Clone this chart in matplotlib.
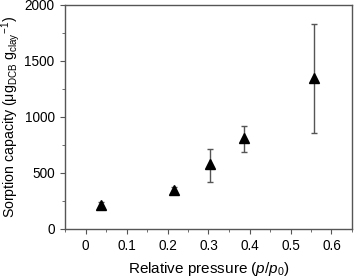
import matplotlib
matplotlib.use("Agg")
import matplotlib.pyplot as plt
from matplotlib.ticker import MultipleLocator

plt.rcParams['font.family'] = ['Liberation Sans', 'DejaVu Sans']
plt.rcParams['mathtext.fontset'] = 'custom'
plt.rcParams['mathtext.rm'] = 'Liberation Sans'
plt.rcParams['mathtext.it'] = 'Liberation Sans:italic'

pressure = [0.037, 0.217, 0.303, 0.387, 0.557]
capacity = [210, 345, 578, 810, 1345]
err_low = [30, 30, 155, 120, 485]
err_high = [30, 30, 140, 110, 485]

fig = plt.figure(figsize=(3.55, 2.77), dpi=100)
ax = fig.add_axes([65/355, 1-229/277, 287/355, 224/277])
ax.errorbar(pressure, capacity, yerr=[err_low, err_high], fmt='^', color='black',
            ms=7, ecolor='#555555', elinewidth=1.0, capsize=2.5, capthick=1.0)
ax.set_xlim(-0.05, 0.65)
ax.set_ylim(0, 2000)
ax.xaxis.set_major_locator(MultipleLocator(0.1))
ax.xaxis.set_minor_locator(MultipleLocator(0.05))
ax.yaxis.set_major_locator(MultipleLocator(500))
ax.yaxis.set_minor_locator(MultipleLocator(250))
ax.set_xticks([0, 0.1, 0.2, 0.3, 0.4, 0.5, 0.6])
ax.set_xticklabels(['0', '0.1', '0.2', '0.3', '0.4', '0.5', '0.6'])
for s in ax.spines.values():
    s.set_color('#555555')
    s.set_linewidth(1.0)
ax.tick_params(which='both', direction='out', color='#555555', labelsize=9.8, top=False, right=False)
ax.tick_params(which='major', length=3.5, pad=4)
ax.tick_params(which='minor', length=2)
ax.set_xlabel('Relative pressure ($p$/$p_0$)', fontsize=11, labelpad=5)
ax.set_ylabel('Sorption capacity (μg$_{\\mathrm{DCB}}$ g$_{\\mathrm{clay}}$$^{-1}$)', fontsize=10.2, labelpad=2)
fig.savefig('out.png', dpi=100)
